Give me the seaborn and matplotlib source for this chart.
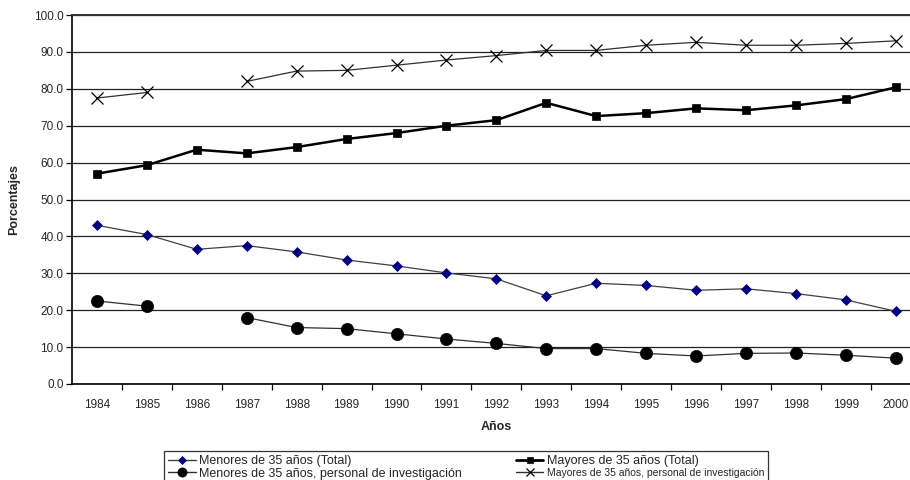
import numpy as np
import pandas as pd
import matplotlib
matplotlib.use('Agg')
import matplotlib.pyplot as plt
import seaborn as sns
from matplotlib.ticker import FixedLocator, FuncFormatter

years = list(range(1984, 2001))

menores_total = [43.0, 40.5, 36.5, 37.5, 35.8, 33.6, 32.0, 30.1, 28.5, 23.9,
                 27.3, 26.7, 25.4, 25.8, 24.5, 22.8, 19.7]
mayores_total = [57.0, 59.3, 63.5, 62.5, 64.2, 66.4, 68.0, 70.0, 71.5, 76.2,
                 72.6, 73.4, 74.7, 74.2, 75.5, 77.2, 80.4]
menores_inv = [22.5, 21.1, np.nan, 18.0, 15.3, 15.0, 13.6, 12.2, 11.0, 9.6,
               9.6, 8.3, 7.6, 8.3, 8.4, 7.8, 7.0]
mayores_inv = [77.5, 79.0, np.nan, 82.0, 84.8, 85.0, 86.4, 87.8, 89.0, 90.4,
               90.4, 91.8, 92.6, 91.8, 91.8, 92.3, 93.0]

labels = ['Menores de 35 años (Total)',
          'Mayores de 35 años (Total)',
          'Menores de 35 años, personal de investigación',
          'Mayores de 35 años, personal de investigación']


def to_frame(values):
    # split the series into segments so the line breaks where data is missing
    df = pd.DataFrame({'year': years, 'value': values})
    df['seg'] = df['value'].isna().cumsum()
    return df.dropna()


sns.set_style('white')
plt.rcParams['font.family'] = ['Liberation Sans', 'DejaVu Sans']

fig = plt.figure(figsize=(9.1, 4.8), dpi=100)
ax = fig.add_axes([72 / 910, 1 - 384 / 480, 848.7 / 910, 369 / 480])

styles = [
    dict(color='#404040', lw=0.9, marker='D', ms=5.5, mfc='#000080', mec='#000080'),
    dict(color='black', lw=1.8, marker='s', ms=5.3, mfc='black', mec='black'),
    dict(color='#303030', lw=0.9, marker='o', ms=8.8, mfc='black', mec='black'),
    dict(color='#303030', lw=0.9, marker='x', ms=8, mfc='none', mec='black', mew=0.9),
]
series = [menores_total, mayores_total, menores_inv, mayores_inv]

for vals, st, lab in zip(series, styles, labels):
    df = to_frame(vals)
    sns.lineplot(data=df, x='year', y='value', units='seg', estimator=None,
                 ax=ax, color=st['color'], linewidth=st['lw'],
                 marker=st['marker'], markersize=st['ms'],
                 markerfacecolor=st['mfc'], markeredgecolor=st['mec'],
                 markeredgewidth=st.get('mew', 0.5), legend=False)

ax.set_xlim(1983.5, 2000.5)
ax.set_ylim(0, 100)
ax.set_yticks(np.arange(0, 101, 10))
ax.yaxis.set_major_formatter(FuncFormatter(lambda v, p: f'{v:.1f}'))
ax.set_xticks(years)
ax.set_xticklabels([str(y) for y in years])
ax.xaxis.set_minor_locator(FixedLocator(np.arange(1984.5, 2000.5, 1)))
ax.tick_params(axis='x', which='major', length=0, pad=11, labelsize=8.5)
ax.tick_params(axis='x', which='minor', length=4, width=0.9, direction='out',
               color='black', bottom=True)
ax.tick_params(axis='y', length=4, width=0.9, direction='out', color='black',
               left=True, labelsize=8.5, pad=2)

ax.grid(axis='y', color='#222222', linewidth=0.9)
ax.grid(axis='x', visible=False)
for s in ['left', 'bottom']:
    ax.spines[s].set_color('black')
    ax.spines[s].set_linewidth(1.2)
ax.spines['top'].set_color('#333333')
ax.spines['top'].set_linewidth(1.4)
ax.spines['right'].set_visible(False)

ax.set_xlabel('Años', fontsize=9, fontweight='bold', labelpad=7)
ax.set_ylabel('Porcentajes', fontsize=9, fontweight='bold', labelpad=10)

# legend handles
handles = []
for st in styles:
    h, = ax.plot([], [], color=st['color'], lw=st['lw'] * 1.1, marker=st['marker'],
                 ms=st['ms'] * 0.75, mfc=st['mfc'], mec=st['mec'],
                 mew=st.get('mew', 0.5))
    handles.append(h)

# legend is filled column by column: reorder so rows read as in the original
order = [0, 2, 1, 3]
leg = fig.legend([handles[i] for i in order], [labels[i] for i in order],
                 ncol=2, loc='upper left',
                 bbox_to_anchor=(158 / 910, 1 - 445 / 480),
                 frameon=True, fancybox=False, edgecolor='black',
                 fontsize=9, handlelength=2.2, handletextpad=0.3,
                 columnspacing=4.3, borderpad=0.3, labelspacing=0.05)
leg.get_frame().set_linewidth(0.9)
leg.get_texts()[3].set_fontsize(7.5)

fig.savefig('out.png', dpi=100)
